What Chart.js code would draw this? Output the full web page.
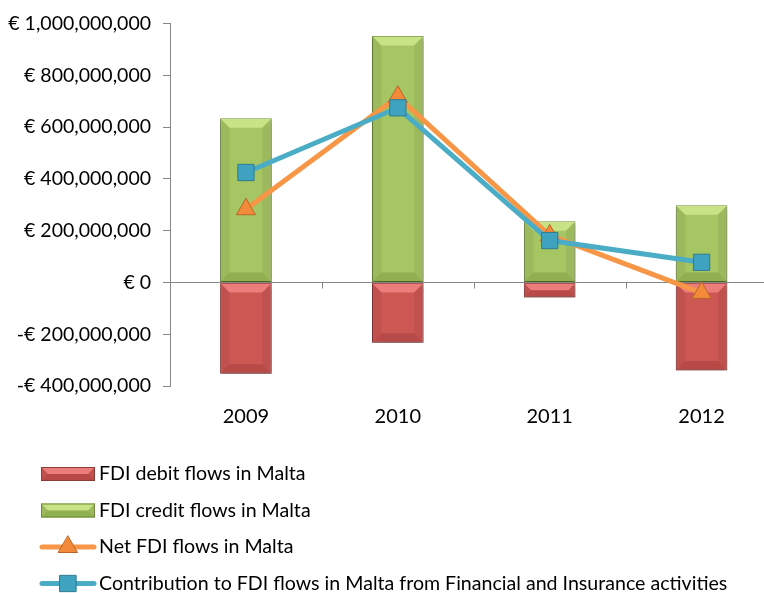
<!DOCTYPE html>
<html>
<head>
<meta charset="utf-8">
<script src="https://cdn.jsdelivr.net/npm/chart.js@4/dist/chart.umd.min.js"></script>
<style>
    html, body { margin: 0; padding: 0; background: #fff; overflow: hidden; }
    #chart { display: block; }
</style>
</head>
<body>
<canvas id="chart" width="790" height="593"></canvas>
<script>
const years = ['2009', '2010', '2011', '2012'];
const debitFlows = [-353000000, -233000000, -58000000, -340000000];
const creditFlows = [635000000, 952000000, 237000000, 298000000];
const netFlows = [283000000, 718000000, 182000000, -40000000];
const financeFlows = [425000000, 675000000, 162000000, 78000000];
const yTicks = { min: -400000000, max: 1000000000, step: 200000000 };

const FONT = 'Lato, "Open Sans", sans-serif';
const AXIS = '#868686';

function euro(v) {
    if (v === 0) return '€ 0';
    return (v < 0 ? '-' : '') + '€ ' + Math.abs(v).toLocaleString('en-US');
}

// zero line with category tick marks (axis crosses at 0, labels stay low)
const zeroLine = {
    id: 'zeroLine',
    beforeDatasetsDraw(chart) {
        const { ctx, chartArea, scales } = chart;
        const y0 = Math.round(scales.y.getPixelForValue(0)) + 0.5;
        const half = (scales.x.getPixelForValue(1) - scales.x.getPixelForValue(0)) / 2;
        ctx.save();
        ctx.strokeStyle = AXIS;
        ctx.lineWidth = 1;
        ctx.beginPath();
        ctx.moveTo(chartArea.left, y0);
        ctx.lineTo(chartArea.right, y0);
        for (let i = 0; i < years.length; i++) {
            const x = Math.round(scales.x.getPixelForValue(i) + half) + 0.5;
            ctx.moveTo(x, y0);
            ctx.lineTo(x, y0 + 6);
        }
        ctx.stroke();
        ctx.restore();
    }
};

function bevel(ctx, l, t, r, b, light, dark) {
    const d = Math.min(9, (b - t) / 2);
    ctx.fillStyle = light;
    ctx.beginPath();
    ctx.moveTo(l, t); ctx.lineTo(r, t); ctx.lineTo(r - d, t + d); ctx.lineTo(l + d, t + d);
    ctx.closePath(); ctx.fill();
    ctx.fillStyle = dark;
    ctx.beginPath();
    ctx.moveTo(l, b); ctx.lineTo(r, b); ctx.lineTo(r - d, b - d); ctx.lineTo(l + d, b - d);
    ctx.closePath(); ctx.fill();
    ctx.fillStyle = 'rgba(0,0,0,0.06)';
    ctx.beginPath();
    ctx.moveTo(r, t); ctx.lineTo(r, b); ctx.lineTo(r - d, b - d); ctx.lineTo(r - d, t + d);
    ctx.closePath(); ctx.fill();
    ctx.beginPath();
    ctx.moveTo(l, t); ctx.lineTo(l, b); ctx.lineTo(l + d, b - d); ctx.lineTo(l + d, t + d);
    ctx.closePath(); ctx.fill();
}

const bevelBars = {
    id: 'bevelBars',
    beforeDatasetDraw(chart, args) {
        const ds = chart.data.datasets[args.index];
        if (!ds.bevel) return;
        const ctx = chart.ctx;
        ctx.save();
        ctx.shadowColor = 'rgba(0,0,0,0.35)';
        ctx.shadowBlur = 5;
        ctx.shadowOffsetY = 3;
    },
    afterDatasetDraw(chart, args) {
        const ds = chart.data.datasets[args.index];
        if (!ds.bevel) return;
        const ctx = chart.ctx;
        ctx.restore();
        ctx.save();
        args.meta.data.forEach(bar => {
            const w = bar.width / 2;
            const t = Math.min(bar.y, bar.base), b = Math.max(bar.y, bar.base);
            bevel(ctx, bar.x - w + 0.5, t + 0.5, bar.x + w - 0.5, b - 0.5, ds.bevel[0], ds.bevel[1]);
        });
        ctx.restore();
    }
};

// legend drawn as a vertical list under the plot
const listLegend = {
    id: 'listLegend',
    afterDraw(chart) {
        const ctx = chart.ctx;
        const rows = [474, 510.5, 547, 583.5];
        const mx = 68;
        ctx.save();
        ctx.font = '19.6px ' + FONT;
        ctx.textBaseline = 'middle';
        chart.data.datasets.forEach((ds, i) => {
            const y = rows[i];
            if (ds.type === 'bar') {
                ctx.fillStyle = ds.backgroundColor;
                ctx.fillRect(41, y - 7, 54, 14);
                bevel(ctx, 41, y - 7, 95, y + 7, ds.bevel[0], ds.bevel[1]);
                ctx.strokeStyle = ds.borderColor;
                ctx.lineWidth = 1;
                ctx.strokeRect(41.5, y - 6.5, 53, 13);
            } else {
                ctx.strokeStyle = ds.borderColor;
                ctx.lineWidth = 5;
                ctx.lineCap = 'round';
                ctx.beginPath();
                ctx.moveTo(42, y);
                ctx.lineTo(94, y);
                ctx.stroke();
                ctx.fillStyle = ds.pointBackgroundColor;
                ctx.strokeStyle = ds.pointBorderColor;
                ctx.lineWidth = 1;
                ctx.beginPath();
                if (ds.pointStyle === 'triangle') {
                    const r = ds.pointRadius;
                    ctx.moveTo(mx, y - r);
                    ctx.lineTo(mx + r * 0.866, y + r / 2);
                    ctx.lineTo(mx - r * 0.866, y + r / 2);
                    ctx.closePath();
                } else {
                    const s = ds.pointRadius * Math.SQRT1_2;
                    ctx.rect(mx - s, y - s, 2 * s, 2 * s);
                }
                ctx.fill();
                ctx.stroke();
            }
            ctx.fillStyle = '#000';
            ctx.fillText(ds.label, 99, y);
        });
        ctx.restore();
    }
};

new Chart(document.getElementById('chart'), {
    data: {
        labels: years,
        datasets: [
            {
                type: 'bar',
                label: 'FDI debit flows in Malta',
                data: debitFlows,
                backgroundColor: '#CD5753',
                borderColor: '#8E3A37',
                borderWidth: 1,
                borderSkipped: false,
                bevel: ['rgba(255,150,150,0.6)', 'rgba(120,30,30,0.25)'],
                barPercentage: 0.34,
                categoryPercentage: 1,
                order: 3
            },
            {
                type: 'bar',
                label: 'FDI credit flows in Malta',
                data: creditFlows,
                backgroundColor: '#A6C563',
                borderColor: '#6F8A3C',
                borderWidth: 1,
                borderSkipped: false,
                bevel: ['rgba(215,240,150,0.7)', 'rgba(70,100,20,0.22)'],
                barPercentage: 0.34,
                categoryPercentage: 1,
                order: 2
            },
            {
                type: 'line',
                label: 'Net FDI flows in Malta',
                data: netFlows,
                borderColor: '#F79646',
                borderWidth: 5,
                pointStyle: 'triangle',
                pointRadius: 11,
                pointBackgroundColor: '#F28A3A',
                pointBorderColor: '#B8662A',
                pointBorderWidth: 1,
                tension: 0,
                order: 1
            },
            {
                type: 'line',
                label: 'Contribution to FDI flows in Malta from Financial and Insurance activities',
                data: financeFlows,
                borderColor: '#4BACC6',
                borderWidth: 5,
                pointStyle: 'rect',
                pointRadius: 11.5,
                pointBackgroundColor: '#3FA3BF',
                pointBorderColor: '#2D7C93',
                pointBorderWidth: 1,
                tension: 0,
                order: 0
            }
        ]
    },
    options: {
        responsive: false,
        animation: false,
        events: [],
        layout: { padding: { top: 11, right: 2, bottom: 153, left: 0 } },
        scales: {
            x: {
                stacked: true,
                offset: true,
                grid: { display: false },
                border: { display: false },
                ticks: { color: '#000', padding: 11, font: { family: FONT, size: 20 } }
            },
            y: {
                min: yTicks.min,
                max: yTicks.max,
                afterFit(scale) { scale.width = 170; },
                grid: { drawOnChartArea: false, drawTicks: true, tickLength: 7, color: AXIS },
                border: { display: true, color: AXIS, width: 1 },
                ticks: {
                    stepSize: yTicks.step,
                    padding: 12,
                    color: '#000',
                    font: { family: FONT, size: 19.5 },
                    callback: v => euro(v)
                }
            }
        },
        plugins: {
            legend: { display: false },
            tooltip: { enabled: false }
        }
    },
    plugins: [zeroLine, bevelBars, listLegend]
});
</script>
</body>
</html>
